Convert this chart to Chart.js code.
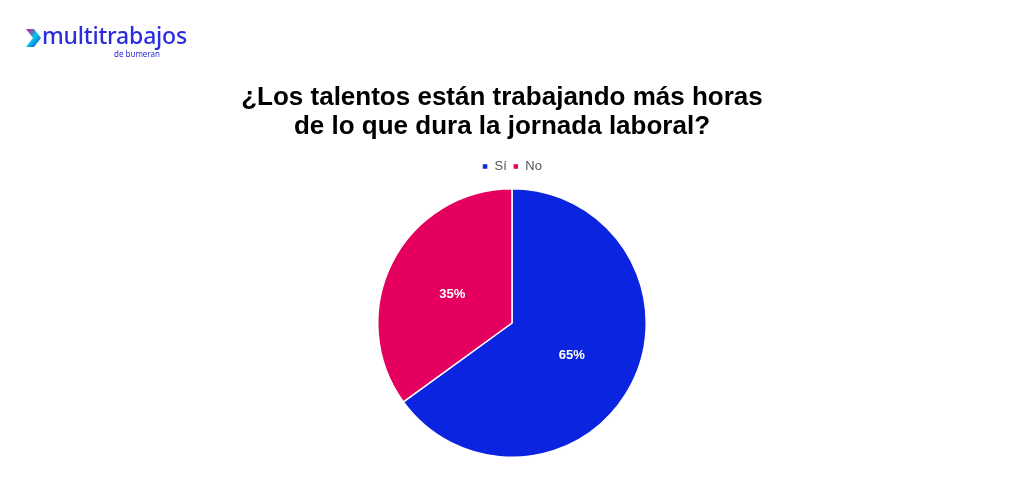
<!DOCTYPE html>
<html>
<head>
<meta charset="utf-8">
<script src="https://cdn.jsdelivr.net/npm/chart.js@4"></script>
<style>
  html, body { margin: 0; padding: 0; background: #fff; }
  #wrap { position: relative; width: 1024px; height: 493px; }
  #logo { position: absolute; left: 24px; top: 22px; font-family: "Noto Sans", sans-serif; color: #2a2ddf; }
  #logo .name { position: absolute; left: 18px; top: -3px; font-size: 23px; font-weight: 500; letter-spacing: -0.2px; white-space: nowrap; }
  #logo .sub { position: absolute; left: 90px; top: 26px; font-size: 8px; white-space: nowrap; }
  #logo svg { position: absolute; left: 0; top: 5px; }
  #title { position: absolute; left: 0; top: 82px; width: 1004px; text-align: center;
           font-family: "Liberation Sans", Arial, sans-serif; font-weight: bold; font-size: 26px; line-height: 29px; color: #000; }
</style>
</head>
<body>
<div id="wrap">
  <div id="logo">
    <svg width="18" height="22" viewBox="0 0 18 22">
      <defs>
        <linearGradient id="g" x1="0" y1="0" x2="1" y2="1">
          <stop offset="0" stop-color="#e6007e"/>
          <stop offset="0.5" stop-color="#00c8e6"/>
          <stop offset="1" stop-color="#2a2ddf"/>
        </linearGradient>
      </defs>
      <path d="M2 2 L10 2 L17 11 L10 20 L2 20 L9 11 Z" fill="url(#g)"/>
    </svg>
    <span class="name">multitrabajos</span>
    <span class="sub">de bumeran</span>
  </div>
  <div id="title"></div>
  <canvas id="chart" width="1024" height="493"></canvas>
</div>
<script>
const categories = ['Sí', 'No'];
const values = [65, 35];
const colors = ['#0a24e0', '#e5005f'];
const titleLines = ['¿Los talentos están trabajando más horas', 'de lo que dura la jornada laboral?'];

document.getElementById('title').innerHTML = titleLines.join('<br>');

// a bit more room between the legend and the pie
const legendGap = {
  id: 'legendGap',
  beforeInit(chart) {
    const fit = chart.legend.fit;
    chart.legend.fit = function () {
      fit.bind(chart.legend)();
      this.height += 5;
    };
  }
};

const pctLabels = {
  id: 'pctLabels',
  afterDatasetsDraw(chart) {
    const ctx = chart.ctx;
    const meta = chart.getDatasetMeta(0);
    const total = values.reduce((a, b) => a + b, 0);
    ctx.save();
    ctx.font = 'bold 13px "Liberation Sans", Arial, sans-serif';
    ctx.fillStyle = '#ffffff';
    ctx.textAlign = 'center';
    ctx.textBaseline = 'middle';
    meta.data.forEach((arc, i) => {
      const mid = (arc.startAngle + arc.endAngle) / 2;
      const r = arc.outerRadius * 0.5;
      ctx.fillText(Math.round(values[i] / total * 100) + '%', arc.x + Math.cos(mid) * r, arc.y + Math.sin(mid) * r + 2);
    });
    ctx.restore();
  }
};

new Chart(document.getElementById('chart').getContext('2d'), {
  type: 'pie',
  data: {
    labels: categories,
    datasets: [{
      data: values,
      backgroundColor: colors,
      borderColor: '#ffffff',
      borderWidth: 1.5
    }]
  },
  options: {
    responsive: false,
    animation: false,
    layout: { padding: { top: 154, bottom: 35 } },
    plugins: {
      legend: {
        display: true,
        labels: {
          boxWidth: 6,
          boxHeight: 6,
          color: '#555555',
          font: { family: '"Liberation Sans", Arial, sans-serif', size: 13 },
          padding: 6
        }
      },
      tooltip: { enabled: false }
    }
  },
  plugins: [legendGap, pctLabels]
});
</script>
</body>
</html>
